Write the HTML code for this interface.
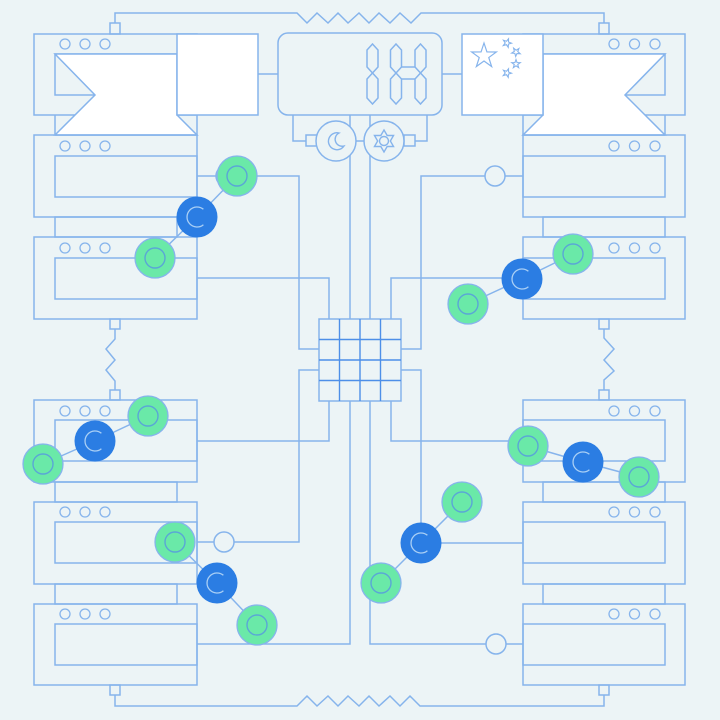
<!DOCTYPE html>
<html><head><meta charset="utf-8"><style>
html,body{margin:0;padding:0;background:#ecf4f6;}
svg{display:block;}
</style></head><body>
<svg width="720" height="720" viewBox="0 0 720 720" xmlns="http://www.w3.org/2000/svg">
<defs>
  <g id="gn">
    <circle cx="0" cy="0" r="20" fill="#6ae9a8" stroke="#86b4ec" stroke-width="1.3"/>
    <circle cx="0" cy="0" r="10" fill="none" stroke="#5aa6d6" stroke-width="1.4"/>
  </g>
  <g id="bn">
    <circle cx="0" cy="0" r="20.5" fill="#2b7de3"/>
    <path d="M6.4 -7.7 A10 10 0 1 0 6.4 7.7" fill="none" stroke="#a9cff5" stroke-width="1.3"/>
  </g>
  <polygon id="sst" points="0,-4.5 1.06,-1.46 4.28,-1.39 1.71,0.56 2.65,3.64 0,1.8 -2.65,3.64 -1.71,0.56 -4.28,-1.39 -1.06,-1.46" fill="none" stroke="#86b4ec" stroke-width="1.1"/>
</defs>
<rect width="720" height="720" fill="#ecf4f6"/>

<g fill="none" stroke="#86b4ec" stroke-width="1.5" stroke-linejoin="miter">
  <!-- top / bottom zigzag wires -->
  <polyline points="115,23 115,13 297,13 307,23 317,13 328,23 338,13 348,23 359,13 369,23 379,13 390,23 400,13 411,23 421,13 604,13 604,23"/>
  <polyline points="115,695 115,706 297,706 307,696 317,706 328,696 338,706 348,696 359,706 369,696 379,706 390,696 400,706 410,696 420,706 604,706 604,695"/>
  <polyline points="115,329 115,339 106,349 115,360 106,370 115,381 115,390"/>
  <polyline points="604,329 604,338 614,349 604,360 614,371 604,380 604,390"/>
  <!-- display links -->
  <line x1="258" y1="74" x2="278" y2="74"/>
  <line x1="442" y1="74" x2="462" y2="74"/>
  <polyline points="293,115 293,141 306,141"/>
  <polyline points="427,115 427,141 415,141"/>
  <line x1="356" y1="141" x2="364" y2="141"/>
  <line x1="350" y1="115" x2="350" y2="319"/>
  <line x1="370" y1="115" x2="370" y2="319"/>
  <!-- grid wires -->
  <polyline points="197,278 329,278 329,319"/>
  <polyline points="197,176 299,176 299,349 319,349"/>
  <polyline points="523,278 391,278 391,319"/>
  <polyline points="523,176 421,176 421,349 401,349"/>
  <polyline points="319,370 299,370 299,542 197,542"/>
  <polyline points="329,401 329,441 197,441"/>
  <polyline points="350,401 350,644 197,644"/>
  <polyline points="370,401 370,644 523,644"/>
  <polyline points="391,401 391,441 523,441"/>
  <polyline points="401,370 421,370 421,543 523,543"/>

  <!-- small squares -->
  <rect x="110" y="23" width="10" height="11"/>
  <rect x="599" y="23" width="10" height="11"/>
  <rect x="110" y="685" width="10" height="10"/>
  <rect x="599" y="685" width="10" height="10"/>
  <rect x="110" y="319" width="10" height="10"/>
  <rect x="110" y="390" width="10" height="10"/>
  <rect x="599" y="319" width="10" height="10"/>
  <rect x="599" y="390" width="10" height="10"/>

  <!-- left column boxes -->
  <rect x="34" y="34" width="163" height="81"/>
  <rect x="55" y="54" width="142" height="41"/>
  <rect x="34" y="135" width="163" height="82"/>
  <rect x="55" y="156" width="142" height="41"/>
  <rect x="34" y="237" width="163" height="82"/>
  <rect x="55" y="258" width="142" height="41"/>
  <rect x="34" y="400" width="163" height="82"/>
  <rect x="55" y="420" width="142" height="41"/>
  <rect x="34" y="502" width="163" height="82"/>
  <rect x="55" y="522" width="142" height="41"/>
  <rect x="34" y="604" width="163" height="81"/>
  <rect x="55" y="624" width="142" height="41"/>
  <line x1="55" y1="115" x2="55" y2="135"/>
  <line x1="197" y1="115" x2="197" y2="135"/>
  <rect x="55" y="217" width="122" height="20"/>
  <rect x="55" y="482" width="122" height="20"/>
  <rect x="55" y="584" width="122" height="20"/>

  <!-- right column boxes -->
  <rect x="523" y="34" width="162" height="81"/>
  <rect x="523" y="54" width="142" height="41"/>
  <rect x="523" y="135" width="162" height="82"/>
  <rect x="523" y="156" width="142" height="41"/>
  <rect x="523" y="237" width="162" height="82"/>
  <rect x="523" y="258" width="142" height="41"/>
  <rect x="523" y="400" width="162" height="82"/>
  <rect x="523" y="420" width="142" height="41"/>
  <rect x="523" y="502" width="162" height="82"/>
  <rect x="523" y="522" width="142" height="41"/>
  <rect x="523" y="604" width="162" height="81"/>
  <rect x="523" y="624" width="142" height="41"/>
  <line x1="523" y1="115" x2="523" y2="135"/>
  <line x1="665" y1="115" x2="665" y2="135"/>
  <rect x="543" y="217" width="122" height="20"/>
  <rect x="543" y="482" width="122" height="20"/>
  <rect x="543" y="584" width="122" height="20"/>
</g>

<!-- box indicator dots -->
<g fill="none" stroke="#86b4ec" stroke-width="1.3">
  <circle cx="65" cy="44" r="5"/><circle cx="85" cy="44" r="5"/><circle cx="105" cy="44" r="5"/>
  <circle cx="65" cy="146" r="5"/><circle cx="85" cy="146" r="5"/><circle cx="105" cy="146" r="5"/>
  <circle cx="65" cy="248" r="5"/><circle cx="85" cy="248" r="5"/><circle cx="105" cy="248" r="5"/>
  <circle cx="65" cy="411" r="5"/><circle cx="85" cy="411" r="5"/><circle cx="105" cy="411" r="5"/>
  <circle cx="65" cy="512" r="5"/><circle cx="85" cy="512" r="5"/><circle cx="105" cy="512" r="5"/>
  <circle cx="65" cy="614" r="5"/><circle cx="85" cy="614" r="5"/><circle cx="105" cy="614" r="5"/>
  <circle cx="614" cy="44" r="5"/><circle cx="634.5" cy="44" r="5"/><circle cx="655" cy="44" r="5"/>
  <circle cx="614" cy="146" r="5"/><circle cx="634.5" cy="146" r="5"/><circle cx="655" cy="146" r="5"/>
  <circle cx="614" cy="248" r="5"/><circle cx="634.5" cy="248" r="5"/><circle cx="655" cy="248" r="5"/>
  <circle cx="614" cy="411" r="5"/><circle cx="634.5" cy="411" r="5"/><circle cx="655" cy="411" r="5"/>
  <circle cx="614" cy="512" r="5"/><circle cx="634.5" cy="512" r="5"/><circle cx="655" cy="512" r="5"/>
  <circle cx="614" cy="614" r="5"/><circle cx="634.5" cy="614" r="5"/><circle cx="655" cy="614" r="5"/>
</g>

<!-- ribbons and flags -->
<g stroke="#86b4ec" stroke-width="1.5" fill="#ffffff">
  <polygon points="55,54 177,54 177,115 197,135 55,135 95,95"/>
  <rect x="177" y="34" width="81" height="81"/>
  <polygon points="665,54 543,54 543,115 523,135 665,135 625,95"/>
  <rect x="462" y="34" width="81" height="81"/>
</g>
<g fill="none" stroke="#86b4ec" stroke-width="1.5">
  <line x1="55" y1="135" x2="197" y2="135"/>
  <line x1="523" y1="135" x2="665" y2="135"/>
</g>
<!-- flag stars -->
<polygon points="484,43 486.94,51.95 496.36,51.98 488.76,57.55 491.64,66.52 484,61 476.36,66.52 479.24,57.55 471.64,51.98 481.06,51.95" fill="none" stroke="#86b4ec" stroke-width="1.2"/>
<use href="#sst" transform="translate(507,43) rotate(20)"/>
<use href="#sst" transform="translate(516,52) rotate(40)"/>
<use href="#sst" transform="translate(516,64) rotate(0)"/>
<use href="#sst" transform="translate(507,73) rotate(20)"/>

<!-- display -->
<g fill="none" stroke="#86b4ec" stroke-width="1.5">
  <rect x="278" y="33" width="164" height="82" rx="10" fill="#ecf4f6"/>
  <polygon points="372.5,44 378,50 378,67 372.5,73 367,67 367,50"/>
  <polygon points="372.5,73 378,79 378,98 372.5,104 367,98 367,79"/>
  <polygon points="396,44 401.5,50 401.5,67 396,73 390.5,67 390.5,50"/>
  <polygon points="396,73 401.5,79 401.5,98 396,104 390.5,98 390.5,79"/>
  <polygon points="420.5,44 426,50 426,67 420.5,73 415,67 415,50"/>
  <polygon points="420.5,73 426,79 426,98 420.5,104 415,98 415,79"/>
  <line x1="401.5" y1="67" x2="415" y2="67"/>
  <line x1="401.5" y1="79" x2="415" y2="79"/>
  <!-- icon squares and circles -->
  <rect x="306" y="135" width="11" height="11" fill="#ecf4f6"/>
  <rect x="404" y="135" width="11" height="11" fill="#ecf4f6"/>
  <circle cx="336" cy="141" r="20" fill="#ecf4f6"/>
  <circle cx="384" cy="141" r="20" fill="#ecf4f6"/>
  <path d="M339 133 A8.5 8.5 0 1 0 344 146 A7 7 0 0 1 339 133 Z" stroke-width="1.4"/>
  <polygon points="384,130 387.18,135.5 393.53,135.5 390.35,141 393.53,146.5 387.18,146.5 384,152 380.82,146.5 374.47,146.5 377.65,141 374.47,135.5 380.82,135.5" stroke-width="1.4"/>
  <circle cx="384" cy="141" r="4.5" stroke-width="1.4"/>
</g>

<!-- central grid -->
<rect x="319" y="319" width="82" height="82" fill="none" stroke="#86b4ec" stroke-width="1.5"/>
<g stroke="#4d8fe8" stroke-width="1.4">
  <line x1="339.5" y1="319" x2="339.5" y2="401"/>
  <line x1="360" y1="319" x2="360" y2="401"/>
  <line x1="380.5" y1="319" x2="380.5" y2="401"/>
  <line x1="319" y1="339.5" x2="401" y2="339.5"/>
  <line x1="319" y1="360" x2="401" y2="360"/>
  <line x1="319" y1="380.5" x2="401" y2="380.5"/>
</g>

<!-- hollow circles -->
<g fill="#ecf4f6" stroke="#86b4ec" stroke-width="1.5">
  <circle cx="226" cy="176" r="10"/>
  <circle cx="495" cy="176" r="10"/>
  <circle cx="224" cy="542" r="10"/>
  <circle cx="496" cy="644" r="10"/>
</g>

<!-- node links -->
<g stroke="#86b4ec" stroke-width="1.5" fill="none">
  <polyline points="237,176 197,217 155,258"/>
  <polyline points="573,254 522,279 468,304"/>
  <polyline points="148,416 95,441 43,464"/>
  <polyline points="528,446 583,462 639,477"/>
  <polyline points="175,542 217,583 257,625"/>
  <polyline points="462,502 421,543 381,583"/>
</g>

<!-- nodes -->
<use href="#gn" transform="translate(237,176)"/>
<use href="#bn" transform="translate(197,217)"/>
<use href="#gn" transform="translate(155,258)"/>

<use href="#gn" transform="translate(573,254)"/>
<use href="#bn" transform="translate(522,279)"/>
<use href="#gn" transform="translate(468,304)"/>

<use href="#gn" transform="translate(148,416)"/>
<use href="#bn" transform="translate(95,441)"/>
<use href="#gn" transform="translate(43,464)"/>

<use href="#gn" transform="translate(528,446)"/>
<use href="#bn" transform="translate(583,462)"/>
<use href="#gn" transform="translate(639,477)"/>

<use href="#gn" transform="translate(175,542)"/>
<use href="#bn" transform="translate(217,583)"/>
<use href="#gn" transform="translate(257,625)"/>

<use href="#gn" transform="translate(462,502)"/>
<use href="#bn" transform="translate(421,543)"/>
<use href="#gn" transform="translate(381,583)"/>
</svg>
</body></html>
